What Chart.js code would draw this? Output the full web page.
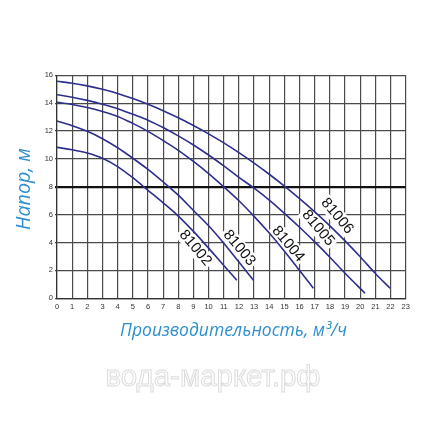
<!DOCTYPE html>
<html><head><meta charset="utf-8">
<script src="https://cdn.jsdelivr.net/npm/chart.js@4/dist/chart.umd.min.js"></script>
<style>html,body{margin:0;padding:0;background:#fff;overflow:hidden}#wrap{width:427px;height:430px}</style>
</head><body><div id="wrap"><canvas id="c" width="427" height="430"></canvas></div>
<script>
// Flow (m3/h) and head (m)
const q81002 = [0, 1, 2, 3, 4, 5, 6, 7, 8, 9, 10, 11, 11.86];
const h81002 = [10.83, 10.66, 10.42, 10.05, 9.45, 8.65, 7.75, 6.85, 5.9, 4.8, 3.6, 2.35, 1.3];
const q81003 = [0, 1, 2, 3, 4, 5, 6, 7, 8, 9, 10, 11, 12, 12.96];
const h81003 = [12.72, 12.38, 11.98, 11.45, 10.8, 10.05, 9.25, 8.35, 7.4, 6.3, 5.2, 3.95, 2.6, 1.3];
const q81004 = [0, 1, 2, 3, 4, 5, 6, 7, 8, 9, 10, 11, 12, 13, 14, 15, 16, 16.91];
const h81004 = [14.06, 13.91, 13.69, 13.4, 13.05, 12.55, 11.98, 11.32, 10.62, 9.82, 8.95, 8.0, 7.0, 5.88, 4.68, 3.38, 2.0, 0.72];
const q81005 = [0, 1, 2, 3, 4, 5, 6, 7, 8, 9, 10, 11, 12, 13, 14, 15, 16, 17, 18, 19, 20.32];
const h81005 = [14.6, 14.43, 14.2, 13.92, 13.6, 13.2, 12.78, 12.25, 11.65, 11.0, 10.28, 9.5, 8.68, 7.9, 7.05, 6.1, 5.1, 4.05, 2.95, 1.8, 0.36];
const q81006 = [0, 1, 2, 3, 4, 5, 6, 7, 8, 9, 10, 11, 12, 13, 14, 15, 16, 17, 18, 19, 20, 21, 21.97];
const h81006 = [15.57, 15.43, 15.24, 15.0, 14.7, 14.33, 13.92, 13.46, 12.95, 12.4, 11.8, 11.15, 10.45, 9.7, 8.9, 8.05, 7.15, 6.2, 5.2, 4.12, 2.98, 1.78, 0.72];
const seriesNames = ['81002', '81003', '81004', '81005', '81006'];
// label anchor (flow, head) for each series name
const labelQ = [9.12, 12.02, 15.24, 17.22, 18.48];
const labelH = [3.61, 3.61, 3.9, 5.04, 5.9];
const xTickLabels = Array.from({length: 24}, (_, i) => String(i));
const yTickLabels = ['0', '2', '4', '6', '8', '10', '12', '14', '16'];
const xTitle = 'Производительность, м³/ч';
const yTitle = 'Напор, м';
const watermark = 'вода-маркет.рф';

const allQ = [q81002, q81003, q81004, q81005, q81006];
const allH = [h81002, h81003, h81004, h81005, h81006];
const curveColor = '#2e2f8c';
const datasets = seriesNames.map((n, i) => ({
  label: n,
  data: allQ[i].map((q, j) => ({x: q, y: allH[i][j]})),
  borderColor: curveColor,
  borderWidth: 1.6,
  pointRadius: 0,
  fill: false,
  cubicInterpolationMode: 'monotone'
}));

const labelPlugin = {
  id: 'labels',
  beforeDatasetsDraw(chart) {
    const {ctx, scales: {x, y}} = chart;
    ctx.save();
    ctx.font = '15px "Liberation Sans", Arial, sans-serif';
    seriesNames.forEach((n, i) => {
      const px = x.getPixelForValue(labelQ[i]);
      const py = y.getPixelForValue(labelH[i]);
      const w = ctx.measureText(n).width;
      ctx.save();
      ctx.translate(px, py);
      ctx.rotate(50 * Math.PI / 180);
      ctx.fillStyle = '#fff';
      ctx.fillRect(-w / 2 - 2, -8, w + 4, 16);
      ctx.restore();
    });
    ctx.restore();
  },
  afterDatasetsDraw(chart) {
    const {ctx, scales: {x, y}} = chart;
    ctx.save();
    ctx.font = '15px "Liberation Sans", Arial, sans-serif';
    ctx.fillStyle = '#111';
    ctx.textAlign = 'center';
    ctx.textBaseline = 'middle';
    seriesNames.forEach((n, i) => {
      const px = x.getPixelForValue(labelQ[i]);
      const py = y.getPixelForValue(labelH[i]);
      ctx.save();
      ctx.translate(px, py);
      ctx.rotate(50 * Math.PI / 180);
      ctx.fillText(n, 0, 0);
      ctx.restore();
    });
    ctx.restore();
  },
  afterDraw(chart) {
    const {ctx} = chart;
    ctx.save();
    ctx.fillStyle = '#2f8fcf';
    ctx.textAlign = 'center';
    ctx.textBaseline = 'middle';
    // x title, fit to width
    let fs = 17;
    ctx.font = 'italic ' + fs + 'px "Open Sans", sans-serif';
    fs = fs * 227 / ctx.measureText(xTitle).width;
    ctx.font = 'italic ' + fs.toFixed(2) + 'px "Open Sans", sans-serif';
    ctx.fillText(xTitle, 233.5, 331);
    // y title
    let fy = 17;
    ctx.font = 'italic ' + fy + 'px "Open Sans", sans-serif';
    fy = fy * 82 / ctx.measureText(yTitle).width;
    ctx.font = 'italic ' + fy.toFixed(2) + 'px "Open Sans", sans-serif';
    ctx.save();
    ctx.translate(24, 189);
    ctx.rotate(-Math.PI / 2);
    ctx.fillText(yTitle, 0, 0);
    ctx.restore();
    // watermark
    let fw = 30;
    ctx.font = fw + 'px "Liberation Sans", Arial, sans-serif';
    fw = fw * 215 / ctx.measureText(watermark).width;
    ctx.font = fw.toFixed(2) + 'px "Liberation Sans", Arial, sans-serif';
    ctx.fillStyle = '#ffffff';
    ctx.fillText(watermark, 213, 378);
    ctx.strokeStyle = '#dcdcdc';
    ctx.lineWidth = 1;
    ctx.strokeText(watermark, 213, 378);
    ctx.restore();
  }
};

new Chart(document.getElementById('c'), {
  type: 'line',
  data: {datasets},
  options: {
    responsive: false,
    animation: false,
    devicePixelRatio: 1,
    layout: {padding: {left: 37, right: 21.3, top: 75.3, bottom: 111.7}},
    plugins: {legend: {display: false}, tooltip: {enabled: false}},
    scales: {
      x: {
        type: 'linear', min: 0, max: 23,
        afterFit(s) { s.height = 20; },
        border: {display: true, color: '#333', width: 1.2},
        grid: {color: '#4a4a4a', lineWidth: 1.2, drawTicks: false},
        ticks: {
          stepSize: 1, padding: 4, color: '#333', maxRotation: 0, autoSkip: false,
          font: {size: 7.5, family: '"Liberation Sans", Arial, sans-serif'},
          callback: (v) => xTickLabels[v]
        }
      },
      y: {
        type: 'linear', min: 0, max: 16,
        afterFit(s) { s.width = 20; },
        border: {display: true, color: '#333', width: 1.2},
        grid: {
          color: (c) => c.tick && c.tick.value === 8 ? '#111' : '#4a4a4a',
          lineWidth: (c) => c.tick && c.tick.value === 8 ? 2.2 : 1.2,
          drawTicks: true, tickLength: 2
        },
        ticks: {
          stepSize: 2, padding: 2, color: '#333',
          font: {size: 7.5, family: '"Liberation Sans", Arial, sans-serif'},
          callback: (v) => yTickLabels[v / 2]
        }
      }
    }
  },
  plugins: [labelPlugin]
});
</script></body></html>
